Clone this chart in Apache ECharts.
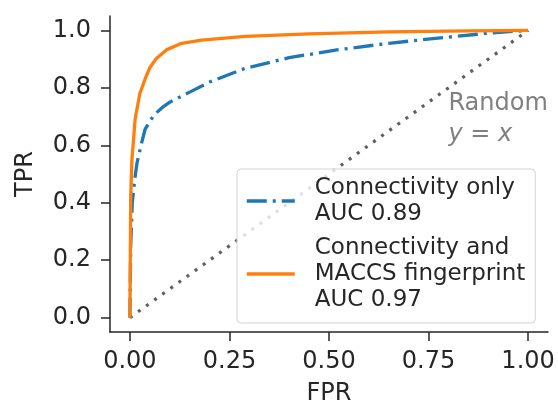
<!DOCTYPE html>
<html>
<head>
<meta charset="utf-8">
<script src="https://cdn.jsdelivr.net/npm/echarts@6/dist/echarts.min.js"></script>
<style>html,body{margin:0;padding:0;background:#fff}#c{width:558px;height:411px}</style>
</head>
<body>
<div id="c"></div>
<script>
// ---- data ----
var xTicks = [0, 0.25, 0.5, 0.75, 1.0];
var yTicks = [0, 0.2, 0.4, 0.6, 0.8, 1.0];
var seriesNames = ['Connectivity only', 'Connectivity and MACCS fingerprint'];
var legendLabels = ['Connectivity only\nAUC 0.89', 'Connectivity and\nMACCS fingerprint\nAUC 0.97'];
var connFPR = [0, 0.002, 0.006, 0.012, 0.018, 0.028, 0.038, 0.06, 0.08, 0.1, 0.15, 0.2, 0.29, 0.4, 0.52, 0.65, 0.78, 0.9, 1.0];
var connTPR = [0, 0.25, 0.4, 0.48, 0.54, 0.6, 0.655, 0.705, 0.73, 0.75, 0.785, 0.82, 0.868, 0.905, 0.932, 0.955, 0.974, 0.99, 1.0];
var maccsFPR = [0, 0.002, 0.005, 0.008, 0.013, 0.025, 0.038, 0.05, 0.065, 0.093, 0.13, 0.18, 0.29, 0.45, 0.65, 0.85, 1.0];
var maccsTPR = [0, 0.42, 0.55, 0.6, 0.69, 0.78, 0.83, 0.87, 0.9, 0.933, 0.955, 0.966, 0.979, 0.988, 0.995, 0.998, 1.0];
var randomX = [0, 1];
var randomY = [0, 1];
var randomLabel = ['Random', 'y', '=', 'x'];
var randomLabelAt = [0.8, 0.69];

function zip(a, b) { return a.map(function (v, i) { return [v, b[i]]; }); }

var FONT = 'DejaVu Sans';
var TXT = '#262626';
var chart = echarts.init(document.getElementById('c'), null, { renderer: 'canvas' });
chart.setOption({
  animation: false,
  textStyle: { fontFamily: FONT },
  grid: { left: 110, right: 10, top: 16, bottom: 75 },
  xAxis: {
    type: 'value', min: -0.05, max: 1.05,
    name: 'FPR', nameLocation: 'middle', nameGap: 50,
    nameTextStyle: { fontFamily: FONT, fontSize: 24, color: TXT },
    splitLine: { show: false },
    axisLine: { onZero: false, lineStyle: { color: TXT, width: 1.5 } },
    axisTick: { show: true, length: 9, customValues: xTicks, lineStyle: { color: TXT, width: 1.5 } },
    axisLabel: { customValues: xTicks, margin: 18, fontFamily: FONT, fontSize: 24, color: TXT,
      formatter: function (v) { return v.toFixed(2); } }
  },
  yAxis: {
    type: 'value', min: -0.05, max: 1.05,
    name: 'TPR', nameLocation: 'middle', nameGap: 72,
    nameTextStyle: { fontFamily: FONT, fontSize: 24, color: TXT },
    splitLine: { show: false },
    axisLine: { show: true, onZero: false, lineStyle: { color: TXT, width: 1.5 } },
    axisTick: { show: true, length: 9, customValues: yTicks, lineStyle: { color: TXT, width: 1.5 } },
    axisLabel: { customValues: yTicks, margin: 19, fontFamily: FONT, fontSize: 24, color: TXT,
      formatter: function (v) { return v.toFixed(1); } }
  },
  legend: {
    data: seriesNames,
    orient: 'vertical', left: 237, top: 169,
    backgroundColor: 'rgba(255,255,255,0.8)',
    borderColor: '#d3d3d3', borderWidth: 1, borderRadius: 4,
    padding: [6, 10, 10, 8],
    itemGap: 8, itemWidth: 48, itemHeight: 14,
    itemStyle: { opacity: 0 },
    lineStyle: { width: 3.5 },
    formatter: function (name) { return legendLabels[seriesNames.indexOf(name)]; },
    textStyle: { fontFamily: FONT, fontSize: 23, lineHeight: 26, color: TXT, padding: [0, 0, 0, 15] }
  },
  series: [
    {
      name: 'Random', type: 'line', data: zip(randomX, randomY), symbol: 'none', silent: true,
      lineStyle: { color: '#5f5f5f', width: 3.2, type: [3, 7], cap: 'butt' },
      markPoint: {
        symbol: 'circle', symbolSize: 0, silent: true,
        itemStyle: { color: 'rgba(0,0,0,0)' },
        data: [{ coord: randomLabelAt, value: 0 }],
        label: {
          show: true, position: 'inside', align: 'left', verticalAlign: 'middle',
          formatter: function () {
            return '{n|' + randomLabel[0] + '}\n{i|' + randomLabel[1] + '}{n| ' + randomLabel[2] + ' }{i|' + randomLabel[3] + '}';
          },
          rich: {
            n: { fontFamily: FONT, fontSize: 24, color: '#808080', lineHeight: 31 },
            i: { fontFamily: FONT, fontSize: 24, fontStyle: 'italic', color: '#808080', lineHeight: 31 }
          }
        }
      }
    },
    {
      name: seriesNames[0], type: 'line', data: zip(connFPR, connTPR), symbol: 'none',
      lineStyle: { color: '#1f77b4', width: 3.3, type: [20, 6, 3, 6] },
      itemStyle: { color: '#1f77b4' }
    },
    {
      name: seriesNames[1], type: 'line', data: zip(maccsFPR, maccsTPR), symbol: 'none',
      lineStyle: { color: '#ff7f0e', width: 3.3 },
      itemStyle: { color: '#ff7f0e' }
    }
  ]
});
</script>
</body>
</html>
